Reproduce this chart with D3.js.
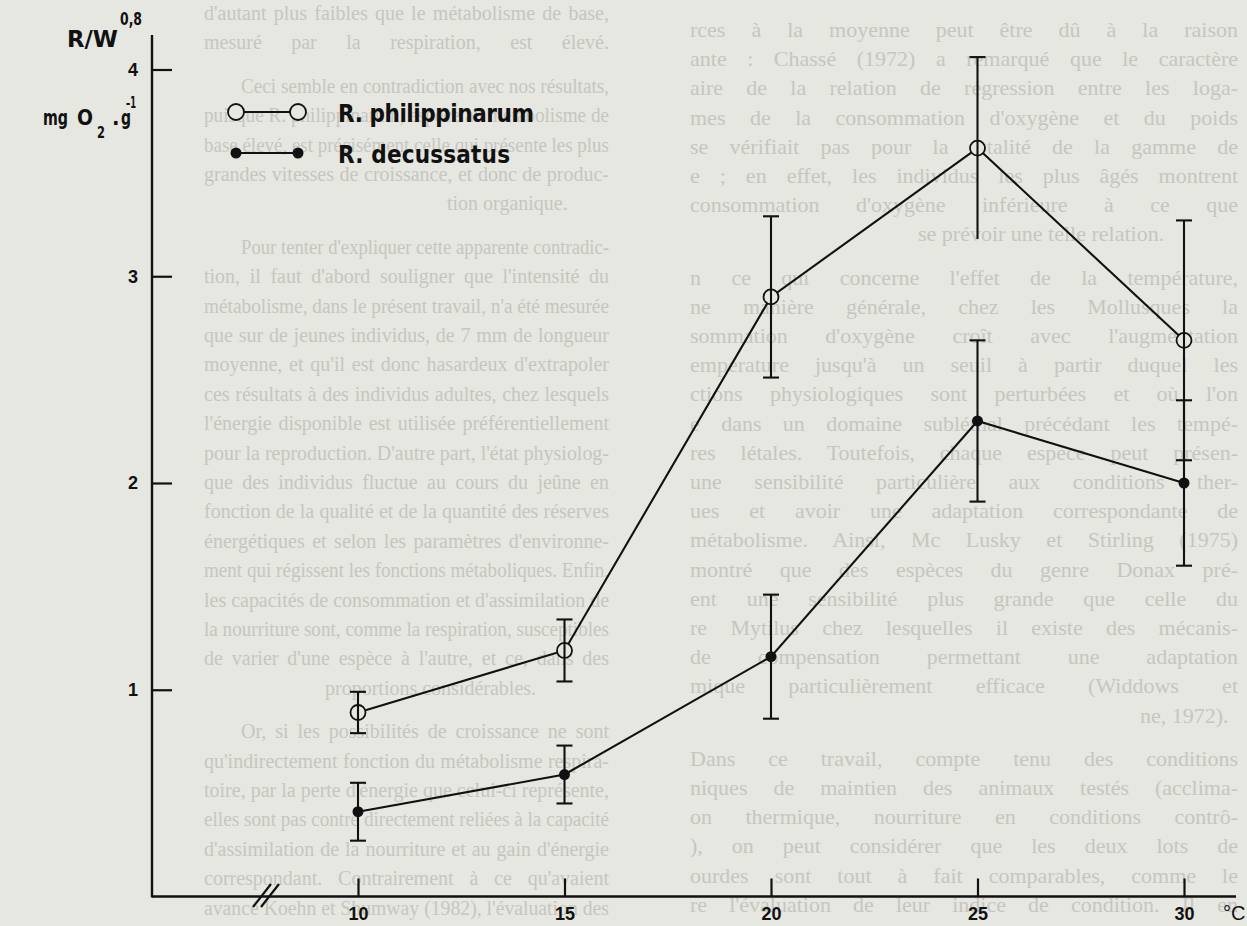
<!DOCTYPE html>
<html>
<head>
<meta charset="utf-8">
<script src="https://cdn.jsdelivr.net/npm/d3@7"></script>
<style>
  body { margin: 0; background: #e6e7e1; }
  svg { display: block; }
</style>
</head>
<body>
<div id="chart"></div>
<script>
// values (temperature in degC, R/W^0.8 in mg O2 g-1)
const temps = [10, 15, 20, 25, 30];
const philMean = [0.89, 1.19, 2.90, 3.62, 2.69];
const philErr = [0.10, 0.15, 0.39, 0.44, 0.58];
const philLowCap = [true, true, true, false, true];
const decuMean = [0.41, 0.59, 1.16, 2.30, 2.00];
const decuErr = [0.14, 0.14, 0.30, 0.39, 0.40];
const xTicks = [10, 15, 20, 25, 30];
const yTicks = [1, 2, 3, 4];
const seriesNames = ["R. philippinarum", "R. decussatus"];

// text of the page printed behind the figure
const leftText = [
  ["d'autant plus faibles que le métabolisme de base,"],
  ["mesuré par la respiration, est élevé."],
  ["Ceci semble en contradiction avec nos résultats,", "p"],
  ["puisque R. philippinarum, espèce au métabolisme de"],
  ["base élevé, est précisément celle qui présente les plus"],
  ["grandes vitesses de croissance, et donc de produc-"],
  ["tion organique.", "s", 447],
  ["Pour tenter d'expliquer cette apparente contradic-", "p"],
  ["tion, il faut d'abord souligner que l'intensité du"],
  ["métabolisme, dans le présent travail, n'a été mesurée"],
  ["que sur de jeunes individus, de 7 mm de longueur"],
  ["moyenne, et qu'il est donc hasardeux d'extrapoler"],
  ["ces résultats à des individus adultes, chez lesquels"],
  ["l'énergie disponible est utilisée préférentiellement"],
  ["pour la reproduction. D'autre part, l'état physiolog-"],
  ["que des individus fluctue au cours du jeûne en"],
  ["fonction de la qualité et de la quantité des réserves"],
  ["énergétiques et selon les paramètres d'environne-"],
  ["ment qui régissent les fonctions métaboliques. Enfin,"],
  ["les capacités de consommation et d'assimilation de"],
  ["la nourriture sont, comme la respiration, susceptibles"],
  ["de varier d'une espèce à l'autre, et ce, dans des"],
  ["proportions considérables.", "s", 325],
  ["Or, si les possibilités de croissance ne sont", "p"],
  ["qu'indirectement fonction du métabolisme respira-"],
  ["toire, par la perte d'énergie que celui-ci représente,"],
  ["elles sont pas contre directement reliées à la capacité"],
  ["d'assimilation de la nourriture et au gain d'énergie"],
  ["correspondant. Contrairement à ce qu'avaient"],
  ["avancé Koehn et Shumway (1982), l'évaluation des"]
];
const rightText = [
  ["rces à la moyenne peut être dû à la raison"],
  ["ante : Chassé (1972) a remarqué que le caractère"],
  ["aire de la relation de régression entre les loga-"],
  ["mes de la consommation d'oxygène et du poids"],
  ["se vérifiait pas pour la totalité de la gamme de"],
  ["e ; en effet, les individus les plus âgés montrent"],
  ["consommation d'oxygène inférieure à ce que"],
  ["se prévoir une telle relation.", "s", 918],
  ["n ce qui concerne l'effet de la température,", "p"],
  ["ne manière générale, chez les Mollusques la"],
  ["sommation d'oxygène croît avec l'augmentation"],
  ["empérature jusqu'à un seuil à partir duquel les"],
  ["ctions physiologiques sont perturbées et où l'on"],
  ["e dans un domaine subléthal précédant les tempé-"],
  ["res létales. Toutefois, chaque espèce peut présen-"],
  ["une sensibilité particulière aux conditions ther-"],
  ["ues et avoir une adaptation correspondante de"],
  ["métabolisme. Ainsi, Mc Lusky et Stirling (1975)"],
  ["montré que des espèces du genre Donax pré-"],
  ["ent une sensibilité plus grande que celle du"],
  ["re Mytilus chez lesquelles il existe des mécanis-"],
  ["de compensation permettant une adaptation"],
  ["mique particulièrement efficace (Widdows et"],
  ["ne, 1972).", "s", 1140],
  ["Dans ce travail, compte tenu des conditions", "p"],
  ["niques de maintien des animaux testés (acclima-"],
  ["on thermique, nourriture en conditions contrô-"],
  ["), on peut considérer que les deux lots de"],
  ["ourdes sont tout à fait comparables, comme le"],
  ["re l'évaluation de leur indice de condition. Il en"]
];

const W = 1247, H = 926;
const ink = "#111";
const paper = "#e6e7e1";
const labelFont = "'Liberation Sans Narrow', 'DejaVu Sans Condensed', 'Liberation Sans', sans-serif";
const tickFont = "'Liberation Sans', Arial, sans-serif";

const svg = d3.select("#chart").append("svg")
  .attr("width", W)
  .attr("height", H);

svg.append("rect").attr("width", W).attr("height", H).attr("fill", paper);

// background page text, justified to its column
function drawColumn(lines, x0, x1, y0, step, indent, size) {
  const g = svg.append("g")
    .attr("font-family", "'Liberation Serif', 'DejaVu Serif', serif")
    .attr("font-size", size)
    .attr("fill", "#c5c6bf");
  let y = y0;
  lines.forEach(function(l, i) {
    if (i > 0) y += step + (l[1] === "p" ? 14 : 0);
    const start = l[1] === "s" ? l[2] : x0 + (l[1] === "p" ? indent : 0);
    const t = g.append("text").attr("x", start).attr("y", y).text(l[0]);
    if (l[1] === "s") return;
    const w = x1 - start;
    const len = t.node().getComputedTextLength();
    const spaces = (l[0].match(/ /g) || []).length;
    if (len > w) {
      t.attr("textLength", w).attr("lengthAdjust", "spacingAndGlyphs");
    } else if (spaces > 0) {
      t.attr("word-spacing", (w - len) / spaces);
    }
  });
}
drawColumn(leftText, 204, 609, 20, 29.4, 37, 20);
drawColumn(rightText, 690, 1238, 37, 29.2, 0, 22);

// scales
const x = d3.scaleLinear().domain([10, 30]).range([358, 1184]);
const y = d3.scaleLinear().domain([0, 4]).range([896.5, 69.5]);

// axes
const xAxis = svg.append("g")
  .attr("transform", "translate(0," + y(0) + ")")
  .call(d3.axisBottom(x).tickValues(xTicks).tickFormat(d3.format("d"))
    .tickSizeInner(-18).tickSizeOuter(0).tickPadding(11));
xAxis.select(".domain").remove();
xAxis.selectAll(".tick line").attr("stroke", ink).attr("stroke-width", 2.2);
xAxis.selectAll(".tick text")
  .attr("fill", ink)
  .attr("font-family", tickFont)
  .attr("font-weight", "bold")
  .attr("font-size", 18);

const yAxis = svg.append("g")
  .attr("transform", "translate(152,0)")
  .call(d3.axisLeft(y).tickValues(yTicks).tickFormat(d3.format("d"))
    .tickSizeInner(-20).tickSizeOuter(0).tickPadding(14));
yAxis.select(".domain").remove();
yAxis.selectAll(".tick line").attr("stroke", ink).attr("stroke-width", 2.2);
yAxis.selectAll(".tick text")
  .attr("fill", ink)
  .attr("font-family", tickFont)
  .attr("font-weight", "bold")
  .attr("font-size", 18);

svg.append("line")
  .attr("x1", 152).attr("x2", 1236)
  .attr("y1", y(0)).attr("y2", y(0))
  .attr("stroke", ink).attr("stroke-width", 2.4);
svg.append("line")
  .attr("x1", 152).attr("x2", 152)
  .attr("y1", 35).attr("y2", y(0) + 1)
  .attr("stroke", ink).attr("stroke-width", 2.4);

// axis break
[0, 8].forEach(function(dx) {
  svg.append("line")
    .attr("x1", 253 + dx).attr("y1", 907)
    .attr("x2", 271 + dx).attr("y2", 884)
    .attr("stroke", ink).attr("stroke-width", 2.2);
});

svg.append("text")
  .attr("x", 1223).attr("y", 920)
  .attr("font-family", tickFont)
  .attr("font-size", 20)
  .attr("fill", ink)
  .text("°C");

// y label
const lab = svg.append("g").attr("fill", ink).attr("font-family", labelFont).attr("font-weight", "bold");
lab.append("text").attr("x", 67).attr("y", 47).attr("font-size", 23)
  .attr("textLength", 51).attr("lengthAdjust", "spacingAndGlyphs").text("R/W");
lab.append("text").attr("x", 120).attr("y", 25).attr("font-size", 17)
  .attr("textLength", 22).attr("lengthAdjust", "spacingAndGlyphs").text("0,8");
lab.append("text").attr("x", 43).attr("y", 125).attr("font-size", 22)
  .attr("textLength", 25).attr("lengthAdjust", "spacingAndGlyphs").text("mg");
lab.append("text").attr("x", 77).attr("y", 125).attr("font-size", 22)
  .attr("textLength", 16).attr("lengthAdjust", "spacingAndGlyphs").text("O");
lab.append("text").attr("x", 97).attr("y", 138).attr("font-size", 15)
  .attr("textLength", 8).attr("lengthAdjust", "spacingAndGlyphs").text("2");
lab.append("text").attr("x", 112).attr("y", 125).attr("font-size", 22).text(".");
lab.append("text").attr("x", 121).attr("y", 125).attr("font-size", 22)
  .attr("textLength", 10).attr("lengthAdjust", "spacingAndGlyphs").text("g");
lab.append("text").attr("x", 126).attr("y", 108).attr("font-size", 15)
  .attr("textLength", 10).attr("lengthAdjust", "spacingAndGlyphs").text("–1");

// series
const phil = temps.map(function(t, i) { return {t: t, v: philMean[i], e: philErr[i], lowCap: philLowCap[i]}; });
const decu = temps.map(function(t, i) { return {t: t, v: decuMean[i], e: decuErr[i], lowCap: true}; });

const line = d3.line()
  .x(function(d) { return x(d.t); })
  .y(function(d) { return y(d.v); });

[phil, decu].forEach(function(s) {
  svg.append("path")
    .datum(s)
    .attr("d", line)
    .attr("fill", "none")
    .attr("stroke", ink)
    .attr("stroke-width", 2.1);
});

svg.append("g").selectAll("circle")
  .data(phil)
  .enter().append("circle")
  .attr("cx", function(d) { return x(d.t); })
  .attr("cy", function(d) { return y(d.v); })
  .attr("r", 7.5)
  .attr("fill", paper)
  .attr("stroke", ink)
  .attr("stroke-width", 1.8);

svg.append("g").selectAll("circle")
  .data(decu)
  .enter().append("circle")
  .attr("cx", function(d) { return x(d.t); })
  .attr("cy", function(d) { return y(d.v); })
  .attr("r", 5.5)
  .attr("fill", ink);

// error bars
const bars = svg.append("g").attr("stroke", ink).attr("stroke-width", 2.1);
phil.concat(decu).forEach(function(d) {
  const cx = x(d.t);
  bars.append("line")
    .attr("x1", cx).attr("x2", cx)
    .attr("y1", y(d.v + d.e)).attr("y2", y(d.v - d.e));
  bars.append("line")
    .attr("x1", cx - 8).attr("x2", cx + 8)
    .attr("y1", y(d.v + d.e)).attr("y2", y(d.v + d.e));
  if (d.lowCap) {
    bars.append("line")
      .attr("x1", cx - 8).attr("x2", cx + 8)
      .attr("y1", y(d.v - d.e)).attr("y2", y(d.v - d.e));
  }
});

// legend
const leg = svg.append("g");
seriesNames.forEach(function(name, i) {
  const ly = 112 + i * 41;
  leg.append("line")
    .attr("x1", 236).attr("x2", 298)
    .attr("y1", ly).attr("y2", ly)
    .attr("stroke", ink).attr("stroke-width", 2.1);
  [236, 298].forEach(function(cx) {
    if (i === 0) {
      leg.append("circle").attr("cx", cx).attr("cy", ly).attr("r", 8)
        .attr("fill", paper).attr("stroke", ink).attr("stroke-width", 1.8);
    } else {
      leg.append("circle").attr("cx", cx).attr("cy", ly).attr("r", 5.5).attr("fill", ink);
    }
  });
  leg.append("text")
    .attr("x", 338).attr("y", ly + 10)
    .attr("font-family", labelFont)
    .attr("font-weight", "bold")
    .attr("font-size", 24)
    .attr("fill", ink)
    .attr("textLength", i === 0 ? 196 : 172)
    .attr("lengthAdjust", "spacing")
    .text(name);
});
</script>
</body>
</html>
